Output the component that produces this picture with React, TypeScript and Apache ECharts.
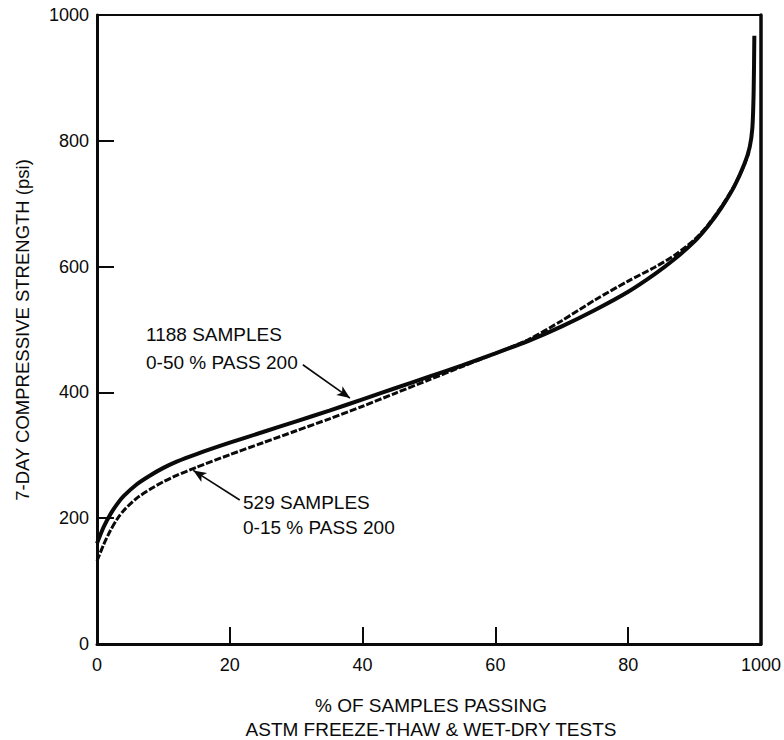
import React, { useEffect, useRef } from "react";
import * as echarts from "echarts";

// % of samples passing (x) and 7-day compressive strength in psi (y)
const pct1188 = [0, 1, 2, 3, 4, 6, 8, 10, 12, 15, 20, 25, 30, 35, 40, 45, 50, 55, 60, 65, 70, 75, 80, 84, 87, 90, 92, 94, 96, 97.5, 98.3, 98.7, 98.9, 99.0];
const psi1188 = [160, 186, 206, 222, 235, 254, 268, 280, 290, 302, 320, 337, 354, 371, 389, 407, 425, 443, 462, 482, 505, 531, 560, 588, 612, 640, 664, 693, 728, 763, 790, 820, 880, 967];

const pct529 = [0, 1, 2, 3, 4, 6, 8, 10, 12, 15, 20, 25, 30, 35, 40, 45, 50, 55, 60, 65, 70, 75, 80, 84, 87, 90, 92, 94, 96, 97.5, 98.2];
const psi529 = [132, 158, 180, 198, 212, 232, 246, 258, 268, 281, 301, 320, 339, 358, 378, 399, 420, 441, 462, 484, 514, 547, 577, 599, 618, 643, 666, 695, 729, 762, 782];

const xTickLabels = ["0", "20", "40", "60", "80", "1000"];
const yTicks = [0, 200, 400, 600, 800, 1000];

const label1188 = ["1188 SAMPLES", "0-50 % PASS 200"];
const label529 = ["529 SAMPLES", "0-15 % PASS 200"];
// arrow [from, to] in data units
const arrow1188 = [[31.0, 444], [38.1, 391]];
const arrow529 = [[21.5, 229], [14.5, 276]];

const yTitle = "7-DAY COMPRESSIVE STRENGTH (psi)";
const xTitle = ["% OF SAMPLES PASSING", "ASTM FREEZE-THAW & WET-DRY TESTS"];

const FONT = "'Liberation Sans', Arial, Helvetica, sans-serif";
const INK = "#0a0a0a";

function zip(a: number[], b: number[]) {
  return a.map((v, i) => [v, b[i]]);
}

function arrowLine(a: number[][]) {
  return {
    silent: true,
    symbol: ["none", "arrow"],
    symbolSize: [8, 13],
    label: { show: false },
    lineStyle: { color: INK, width: 1.6, type: "solid" },
    data: [[{ coord: a[0] }, { coord: a[1] }]],
  };
}

export default function App() {
  const ref = useRef<HTMLDivElement>(null);
  useEffect(() => {
    if (!ref.current) return;
    document.body.style.margin = "0";
    const chart = echarts.init(ref.current, undefined, { renderer: "svg" });
    const textStyle = (text: string, size = 19) => ({ text, fill: INK, font: `${size}px ${FONT}` });
    chart.setOption({
      animation: false,
      backgroundColor: "#fff",
      grid: { left: 97, right: 23, top: 15, bottom: 96 },
      xAxis: [
        {
          type: "value",
          min: 0,
          max: 100,
          interval: 20,
          axisLine: { show: true, onZero: false, lineStyle: { color: INK, width: 3 } },
          axisTick: { show: true, inside: true, length: 17, lineStyle: { color: INK, width: 2 } },
          axisLabel: {
            margin: 12,
            color: INK,
            fontFamily: FONT,
            fontSize: 18,
            formatter: (v: number) => xTickLabels[Math.round(v / 20)] ?? String(v),
          },
          splitLine: { show: false },
        },
        {
          type: "value",
          position: "top",
          min: 0,
          max: 100,
          axisLine: { show: true, onZero: false, lineStyle: { color: INK, width: 2 } },
          axisTick: { show: false },
          axisLabel: { show: false },
          splitLine: { show: false },
        },
      ],
      yAxis: [
        {
          type: "value",
          min: 0,
          max: 1000,
          interval: 200,
          axisLine: { show: true, onZero: false, lineStyle: { color: INK, width: 3 } },
          axisTick: { show: true, inside: true, length: 17, lineStyle: { color: INK, width: 2 } },
          axisLabel: {
            margin: 8,
            color: INK,
            fontFamily: FONT,
            fontSize: 18,
            formatter: (v: number) => (yTicks.includes(v) ? String(v) : ""),
          },
          splitLine: { show: false },
        },
        {
          type: "value",
          position: "right",
          min: 0,
          max: 1000,
          axisLine: { show: true, onZero: false, lineStyle: { color: INK, width: 3.5 } },
          axisTick: { show: false },
          axisLabel: { show: false },
          splitLine: { show: false },
        },
      ],
      series: [
        {
          name: "1188 SAMPLES 0-50 % PASS 200",
          type: "line",
          data: zip(pct1188, psi1188),
          smooth: 0.25,
          showSymbol: false,
          lineStyle: { color: INK, width: 4 },
          markLine: arrowLine(arrow1188),
        },
        {
          name: "529 SAMPLES 0-15 % PASS 200",
          type: "line",
          data: zip(pct529, psi529),
          smooth: 0.25,
          showSymbol: false,
          lineStyle: { color: INK, width: 3, type: [7, 2] },
          markLine: arrowLine(arrow529),
        },
      ],
      graphic: [
        { type: "text", left: 146, top: 325, style: textStyle(label1188[0]) },
        { type: "text", left: 146, top: 353, style: textStyle(label1188[1]) },
        { type: "text", left: 243, top: 493, style: textStyle(label529[0]) },
        { type: "text", left: 243, top: 518, style: textStyle(label529[1]) },
        {
          type: "text",
          x: 22,
          y: 330,
          rotation: Math.PI / 2,
          style: { ...textStyle(yTitle, 18.5), align: "center", verticalAlign: "middle" },
        },
        {
          type: "text",
          x: 431,
          y: 705,
          style: { ...textStyle(xTitle[0]), align: "center", verticalAlign: "middle" },
        },
        {
          type: "text",
          x: 431,
          y: 729,
          style: { ...textStyle(xTitle[1]), align: "center", verticalAlign: "middle" },
        },
      ],
    });
    return () => chart.dispose();
  }, []);
  return <div ref={ref} style={{ width: 784, height: 740 }} />;
}
